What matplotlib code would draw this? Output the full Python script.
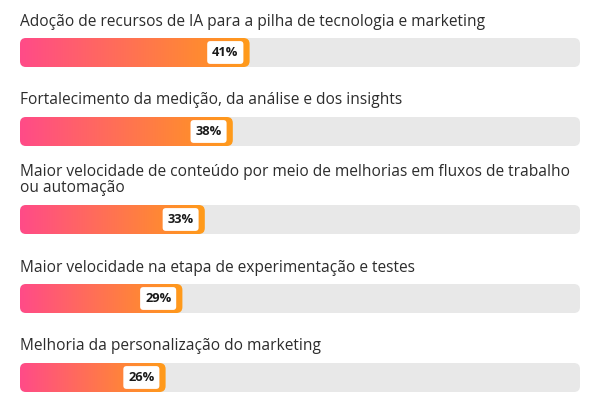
import numpy as np
import matplotlib.pyplot as plt
from matplotlib.patches import FancyBboxPatch
from matplotlib.colors import LinearSegmentedColormap

# dados
labels = [
    "Adoção de recursos de IA para a pilha de tecnologia e marketing",
    "Fortalecimento da medição, da análise e dos insights",
    "Maior velocidade de conteúdo por meio de melhorias em fluxos de trabalho\nou automação",
    "Maior velocidade na etapa de experimentação e testes",
    "Melhoria da personalização do marketing",
]
values = [41, 38, 33, 29, 26]
value_labels = ["41%", "38%", "33%", "29%", "26%"]

# posições verticais (pixels) das barras
bar_top = [38, 117, 205, 284, 363]
bar_h = 29

plt.rcParams['font.family'] = ['Open Sans', 'DejaVu Sans']

fig = plt.figure(figsize=(6, 4), dpi=100)
ax = fig.add_axes([0, 0, 1, 1])
left_px, width_px = 20, 560
px_per_pct = width_px / 100
ax.set_xlim(-left_px / px_per_pct, (600 - left_px) / px_per_pct)
ax.set_ylim(400, 0)
ax.axis('off')

cmap = LinearSegmentedColormap.from_list('pk', ['#ff4b88', '#ff9b1a'])
grad = np.linspace(0, 1, 256).reshape(1, -1)
r = 6 / px_per_pct

for lab, v, vl, top in zip(labels, values, value_labels, bar_top):
    ax.text(0, top - 8.5, lab, ha='left', va='bottom', fontsize=11.2,
            color='#2c2c2c', linespacing=1.0)
    track = FancyBboxPatch((0, top), 100, bar_h,
                           boxstyle=f"round,pad=0,rounding_size={r}",
                           mutation_aspect=px_per_pct,
                           fc='#e8e8e8', ec='none')
    ax.add_patch(track)
    bar = FancyBboxPatch((0, top), v, bar_h,
                         boxstyle=f"round,pad=0,rounding_size={r}",
                         mutation_aspect=px_per_pct,
                         fc='none', ec='none')
    ax.add_patch(bar)
    im = ax.imshow(grad, cmap=cmap, aspect='auto',
                   extent=[0, v, top + bar_h, top], zorder=2)
    im.set_clip_path(bar)
    ax.annotate(vl, xy=(v, top + bar_h / 2), xytext=(-8, 0),
                textcoords='offset points', ha='right', va='center',
                fontsize=9.3, fontweight='bold', color='#1a1a1a', zorder=3,
                bbox=dict(boxstyle='round,pad=0.38,rounding_size=0.25',
                          fc='white', ec='none'))

fig.savefig('out.png', dpi=100)
